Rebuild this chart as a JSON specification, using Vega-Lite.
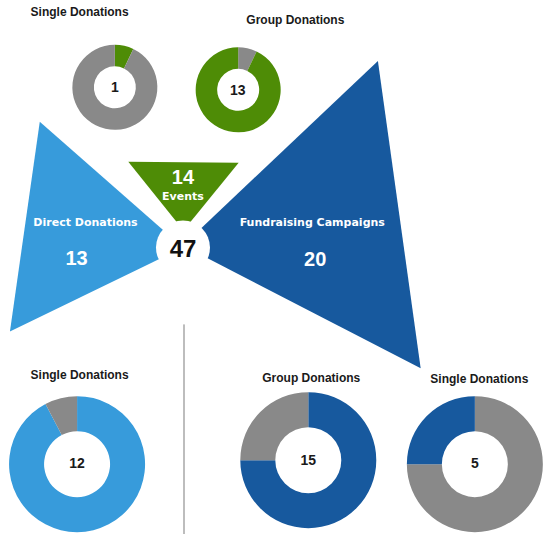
{
  "$schema": "https://vega.github.io/schema/vega-lite/v6.json",
  "width": 543,
  "height": 535,
  "autosize": {"type": "fit", "contains": "padding"},
  "padding": 0,
  "background": "white",
  "config": {"view": {"stroke": null}},
  "datasets": {
    "shapes": [
      {"group": "Direct Donations", "k": 1, "x": 40, "y": 122},
      {"group": "Direct Donations", "k": 2, "x": 10, "y": 332},
      {"group": "Direct Donations", "k": 3, "x": 184, "y": 248},
      {"group": "Events", "k": 1, "x": 129, "y": 162},
      {"group": "Events", "k": 2, "x": 240, "y": 163},
      {"group": "Events", "k": 3, "x": 184.5, "y": 231},
      {"group": "Fundraising Campaigns", "k": 1, "x": 380, "y": 61},
      {"group": "Fundraising Campaigns", "k": 2, "x": 184, "y": 246},
      {"group": "Fundraising Campaigns", "k": 3, "x": 423, "y": 369}
    ],
    "donuts": [
      {"donut": "A", "row": "top", "k": 1, "group": "Events", "n": 1, "cx": 115.5, "cy": 87.5},
      {"donut": "A", "row": "top", "k": 2, "group": "Other", "n": 13, "cx": 115.5, "cy": 87.5},
      {"donut": "B", "row": "top", "k": 1, "group": "Other", "n": 1, "cx": 239.5, "cy": 90},
      {"donut": "B", "row": "top", "k": 2, "group": "Events", "n": 13, "cx": 239.5, "cy": 90},
      {"donut": "C", "row": "bottom", "k": 1, "group": "Direct Donations", "n": 12, "cx": 77.5, "cy": 465},
      {"donut": "C", "row": "bottom", "k": 2, "group": "Other", "n": 1, "cx": 77.5, "cy": 465},
      {"donut": "D", "row": "bottom", "k": 1, "group": "Fundraising Campaigns", "n": 15, "cx": 310, "cy": 461},
      {"donut": "D", "row": "bottom", "k": 2, "group": "Other", "n": 5, "cx": 310, "cy": 461},
      {"donut": "E", "row": "bottom", "k": 1, "group": "Other", "n": 15, "cx": 477.5, "cy": 465},
      {"donut": "E", "row": "bottom", "k": 2, "group": "Fundraising Campaigns", "n": 5, "cx": 477.5, "cy": 465}
    ]
  },
  "layer": [
    {
      "data": {"name": "shapes"},
      "mark": {"type": "line", "strokeWidth": 0.5, "strokeOpacity": 0},
      "encoding": {
        "x": {"field": "x", "type": "quantitative", "scale": {"domain": [0, 543], "nice": false, "zero": false}, "axis": null},
        "y": {"field": "y", "type": "quantitative", "scale": {"domain": [0, 535], "nice": false, "zero": false, "reverse": true}, "axis": null},
        "order": {"field": "k"},
        "fill": {"field": "group", "type": "nominal", "legend": null,
          "scale": {"domain": ["Direct Donations", "Events", "Fundraising Campaigns", "Other"], "range": ["#379bdb", "#4e8c06", "#17599e", "#898989"]}}
      }
    },
    {
      "data": {"values": [{"x": 184, "y": 248}]},
      "mark": {"type": "point", "shape": "circle", "filled": true, "fill": "white", "opacity": 1, "size": 2916, "strokeWidth": 0},
      "encoding": {
        "x": {"field": "x", "type": "quantitative", "scale": {"domain": [0, 543], "nice": false, "zero": false}, "axis": null},
        "y": {"field": "y", "type": "quantitative", "scale": {"domain": [0, 535], "nice": false, "zero": false, "reverse": true}, "axis": null}
      }
    },
    {
      "data": {"name": "donuts"},
      "transform": [
        {"filter": "datum.row === 'top'"},
        {"stack": "n", "groupby": ["donut"], "sort": [{"field": "k"}], "as": ["t0", "t1"], "offset": "normalize"}
      ],
      "mark": {"type": "arc", "radius": 42.5, "radius2": 21},
      "encoding": {
        "x": {"field": "cx", "type": "quantitative", "scale": {"domain": [0, 543], "nice": false, "zero": false}, "axis": null},
        "y": {"field": "cy", "type": "quantitative", "scale": {"domain": [0, 535], "nice": false, "zero": false, "reverse": true}, "axis": null},
        "theta": {"field": "t0", "type": "quantitative", "stack": null, "scale": {"domain": [0, 1], "range": [0, 6.283185307]}},
        "theta2": {"field": "t1"},
        "fill": {"field": "group", "type": "nominal", "legend": null}
      }
    },
    {
      "data": {"name": "donuts"},
      "transform": [
        {"filter": "datum.row === 'bottom'"},
        {"stack": "n", "groupby": ["donut"], "sort": [{"field": "k"}], "as": ["t0", "t1"], "offset": "normalize"}
      ],
      "mark": {"type": "arc", "radius": 68, "radius2": 33},
      "encoding": {
        "x": {"field": "cx", "type": "quantitative", "scale": {"domain": [0, 543], "nice": false, "zero": false}, "axis": null},
        "y": {"field": "cy", "type": "quantitative", "scale": {"domain": [0, 535], "nice": false, "zero": false, "reverse": true}, "axis": null},
        "theta": {"field": "t0", "type": "quantitative", "stack": null, "scale": {"domain": [0, 1], "range": [0, 6.283185307]}},
        "theta2": {"field": "t1"},
        "fill": {"field": "group", "type": "nominal", "legend": null}
      }
    },
    {
      "data": {"values": [{"x": 185, "y": 325, "y2": 535}]},
      "mark": {"type": "rule", "color": "#bdbdbd", "strokeWidth": 2},
      "encoding": {
        "x": {"field": "x", "type": "quantitative", "scale": {"domain": [0, 543], "nice": false, "zero": false}, "axis": null},
        "y": {"field": "y", "type": "quantitative", "scale": {"domain": [0, 535], "nice": false, "zero": false, "reverse": true}, "axis": null},
        "y2": {"field": "y2"}
      }
    },
    {
      "data": {"values": [
        {"text": "Single Donations", "x": 80, "y": 12},
        {"text": "Group Donations", "x": 297, "y": 20},
        {"text": "Single Donations", "x": 80, "y": 376},
        {"text": "Group Donations", "x": 313, "y": 379},
        {"text": "Single Donations", "x": 482, "y": 380}
      ]},
      "mark": {"type": "text", "font": "Liberation Sans", "fontWeight": "bold", "fontSize": 12, "color": "#1a1a1a", "baseline": "middle", "align": "center"},
      "encoding": {
        "x": {"field": "x", "type": "quantitative", "scale": {"domain": [0, 543], "nice": false, "zero": false}, "axis": null},
        "y": {"field": "y", "type": "quantitative", "scale": {"domain": [0, 535], "nice": false, "zero": false, "reverse": true}, "axis": null},
        "text": {"field": "text"}
      }
    },
    {
      "data": {"values": [
        {"text": "1", "x": 115.5, "y": 88},
        {"text": "13", "x": 239, "y": 91},
        {"text": "12", "x": 77.5, "y": 465},
        {"text": "15", "x": 310, "y": 462},
        {"text": "5", "x": 477.5, "y": 465}
      ]},
      "mark": {"type": "text", "font": "Liberation Sans", "fontWeight": "bold", "fontSize": 14, "color": "#1a1a1a", "baseline": "middle", "align": "center"},
      "encoding": {
        "x": {"field": "x", "type": "quantitative", "scale": {"domain": [0, 543], "nice": false, "zero": false}, "axis": null},
        "y": {"field": "y", "type": "quantitative", "scale": {"domain": [0, 535], "nice": false, "zero": false, "reverse": true}, "axis": null},
        "text": {"field": "text"}
      }
    },
    {
      "data": {"values": [
        {"text": "Direct Donations", "x": 86, "y": 223},
        {"text": "Fundraising Campaigns", "x": 314, "y": 223},
        {"text": "Events", "x": 184, "y": 197}
      ]},
      "mark": {"type": "text", "font": "DejaVu Sans", "fontWeight": "bold", "fontSize": 11, "color": "white", "baseline": "middle", "align": "center"},
      "encoding": {
        "x": {"field": "x", "type": "quantitative", "scale": {"domain": [0, 543], "nice": false, "zero": false}, "axis": null},
        "y": {"field": "y", "type": "quantitative", "scale": {"domain": [0, 535], "nice": false, "zero": false, "reverse": true}, "axis": null},
        "text": {"field": "text"}
      }
    },
    {
      "data": {"values": [
        {"text": "13", "x": 77, "y": 259},
        {"text": "14", "x": 184, "y": 178},
        {"text": "20", "x": 317, "y": 260}
      ]},
      "mark": {"type": "text", "font": "Liberation Sans", "fontWeight": "bold", "fontSize": 20, "color": "white", "baseline": "middle", "align": "center"},
      "encoding": {
        "x": {"field": "x", "type": "quantitative", "scale": {"domain": [0, 543], "nice": false, "zero": false}, "axis": null},
        "y": {"field": "y", "type": "quantitative", "scale": {"domain": [0, 535], "nice": false, "zero": false, "reverse": true}, "axis": null},
        "text": {"field": "text"}
      }
    },
    {
      "data": {"values": [{"text": "47", "x": 184, "y": 250}]},
      "mark": {"type": "text", "font": "Liberation Sans", "fontWeight": "bold", "fontSize": 24, "color": "#111111", "baseline": "middle", "align": "center"},
      "encoding": {
        "x": {"field": "x", "type": "quantitative", "scale": {"domain": [0, 543], "nice": false, "zero": false}, "axis": null},
        "y": {"field": "y", "type": "quantitative", "scale": {"domain": [0, 535], "nice": false, "zero": false, "reverse": true}, "axis": null},
        "text": {"field": "text"}
      }
    }
  ]
}
